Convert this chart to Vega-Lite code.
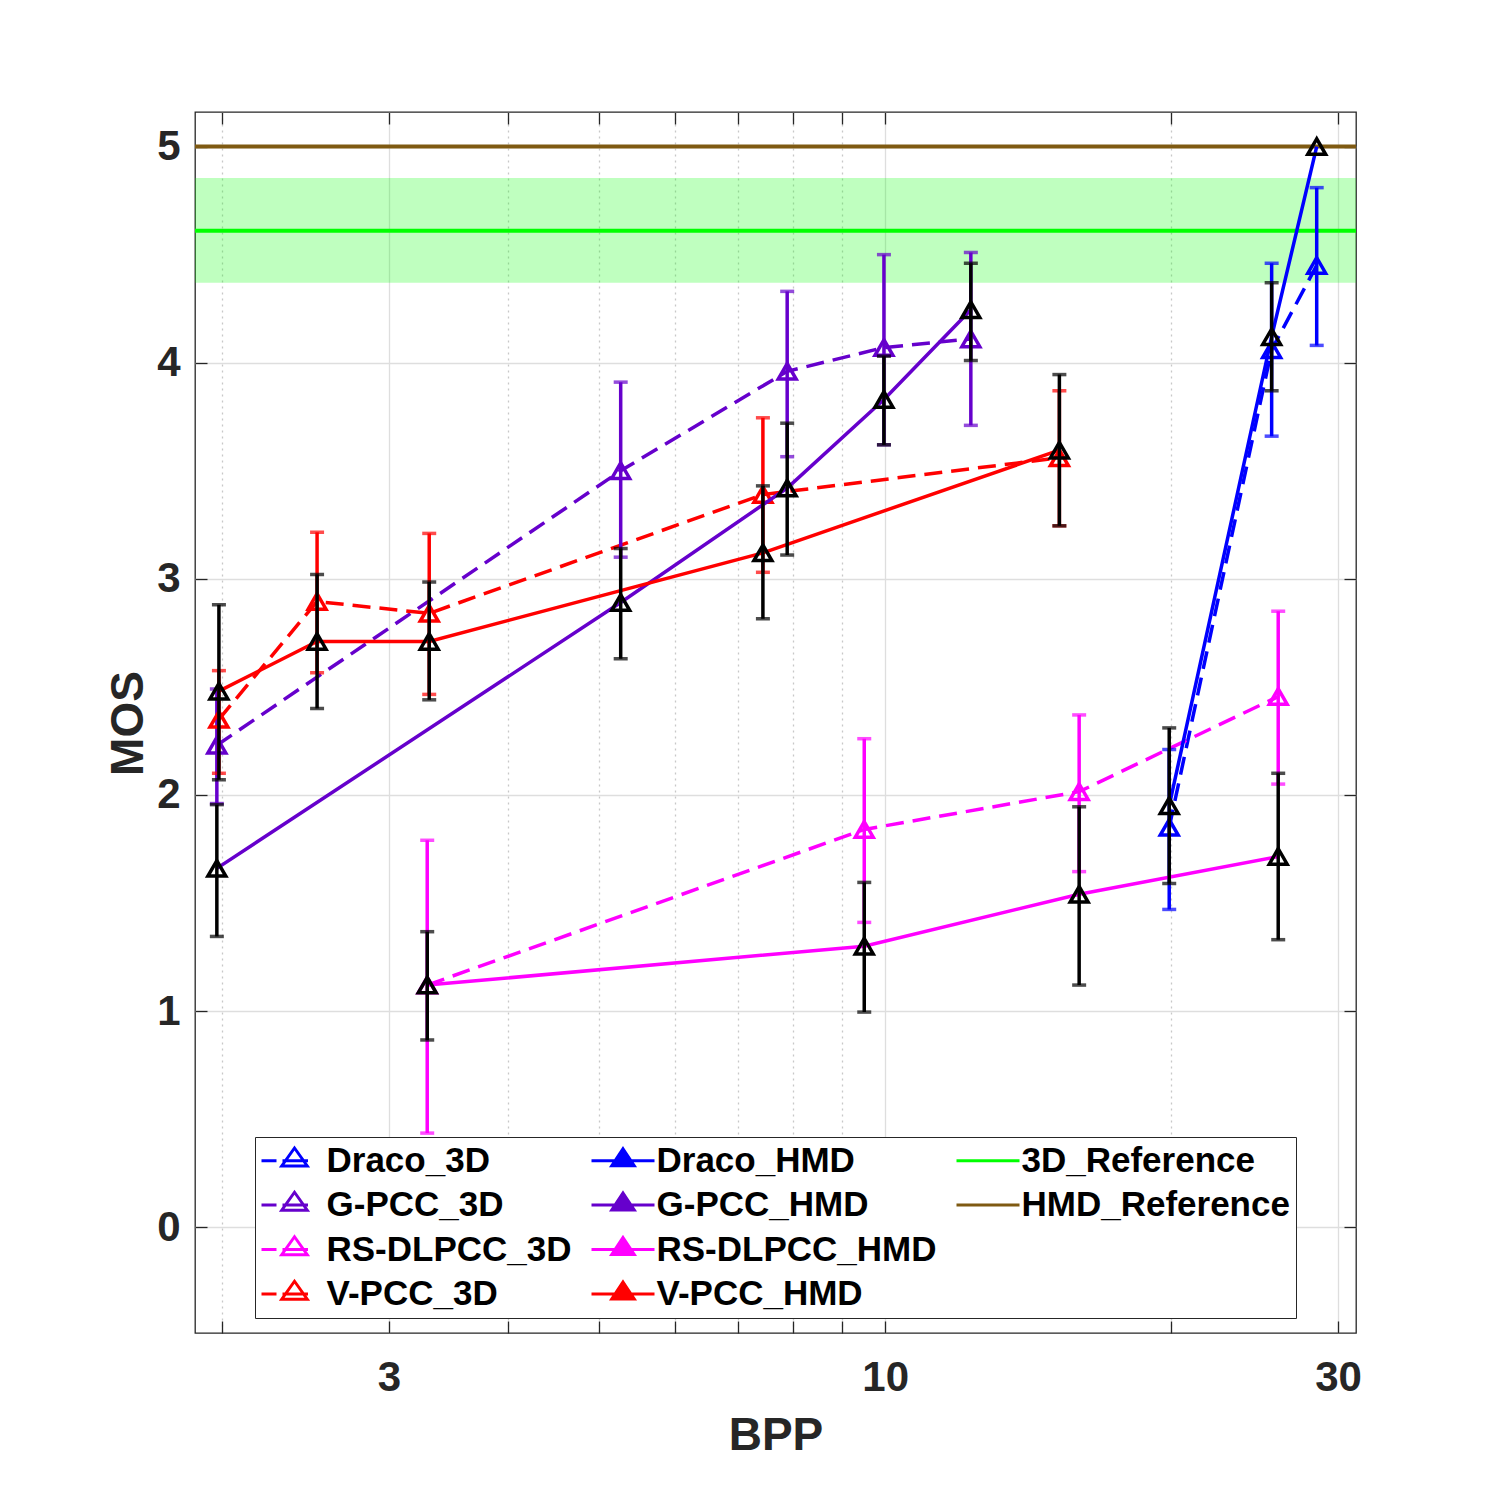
{
  "$schema": "https://vega.github.io/schema/vega-lite/v6.json",
  "width": 1161,
  "height": 1221,
  "autosize": {"type": "none"},
  "padding": {"left": 195, "top": 112, "right": 144, "bottom": 167},
  "background": "white",
  "config": {
    "view": {"stroke": "#262626", "strokeWidth": 1.3},
    "font": "Liberation Sans",
    "axis": {
      "labelFont": "Liberation Sans", "labelFontWeight": "bold", "labelFontSize": 42, "labelColor": "#262626",
      "titleFont": "Liberation Sans", "titleFontWeight": "bold", "titleFontSize": 46, "titleColor": "#262626",
      "domain": false, "tickColor": "#262626", "tickWidth": 1.3, "gridColor": "#dedede", "gridWidth": 1.3,
      "labelFlush": false, "labelOverlap": false
    },
    "legend": {
      "labelFont": "Liberation Sans", "labelFontWeight": "bold", "labelFontSize": 35, "labelColor": "#000000",
      "labelLimit": 500, "symbolSize": 900, "symbolStrokeWidth": 3,
      "strokeColor": "#262626", "fillColor": "#ffffff", "padding": 6, "rowPadding": 6.5, "columnPadding": 13,
      "symbolOffset": 14.5, "labelOffset": 16
    }
  },
  "datasets": {
    "pts": [
      {"series": "Draco_3D", "type": "3D", "bpp": 19.92, "mos": 1.85, "lo": 1.47, "hi": 2.21},
      {"series": "Draco_3D", "type": "3D", "bpp": 25.54, "mos": 4.06, "lo": 3.66, "hi": 4.46},
      {"series": "Draco_3D", "type": "3D", "bpp": 28.49, "mos": 4.45, "lo": 4.08, "hi": 4.81},
      {"series": "Draco_HMD", "type": "HMD", "bpp": 19.92, "mos": 1.95, "lo": 1.59, "hi": 2.31},
      {"series": "Draco_HMD", "type": "HMD", "bpp": 25.54, "mos": 4.12, "lo": 3.87, "hi": 4.37},
      {"series": "Draco_HMD", "type": "HMD", "bpp": 28.49, "mos": 5.0, "lo": null, "hi": null},
      {"series": "G-PCC_3D", "type": "3D", "bpp": 1.976, "mos": 2.23, "lo": 1.96, "hi": 2.49},
      {"series": "G-PCC_3D", "type": "3D", "bpp": 5.264, "mos": 3.5, "lo": 3.1, "hi": 3.91},
      {"series": "G-PCC_3D", "type": "3D", "bpp": 7.884, "mos": 3.96, "lo": 3.565, "hi": 4.33},
      {"series": "G-PCC_3D", "type": "3D", "bpp": 9.97, "mos": 4.07, "lo": 3.62, "hi": 4.5},
      {"series": "G-PCC_3D", "type": "3D", "bpp": 12.31, "mos": 4.11, "lo": 3.71, "hi": 4.51},
      {"series": "G-PCC_HMD", "type": "HMD", "bpp": 1.976, "mos": 1.66, "lo": 1.345, "hi": 1.955},
      {"series": "G-PCC_HMD", "type": "HMD", "bpp": 5.264, "mos": 2.89, "lo": 2.63, "hi": 3.14},
      {"series": "G-PCC_HMD", "type": "HMD", "bpp": 7.884, "mos": 3.42, "lo": 3.11, "hi": 3.72},
      {"series": "G-PCC_HMD", "type": "HMD", "bpp": 9.97, "mos": 3.83, "lo": 3.62, "hi": 4.03},
      {"series": "G-PCC_HMD", "type": "HMD", "bpp": 12.31, "mos": 4.245, "lo": 4.01, "hi": 4.46},
      {"series": "RS-DLPCC_3D", "type": "3D", "bpp": 3.292, "mos": 1.12, "lo": 0.435, "hi": 1.79},
      {"series": "RS-DLPCC_3D", "type": "3D", "bpp": 9.505, "mos": 1.84, "lo": 1.41, "hi": 2.26},
      {"series": "RS-DLPCC_3D", "type": "3D", "bpp": 16.01, "mos": 2.015, "lo": 1.645, "hi": 2.37},
      {"series": "RS-DLPCC_3D", "type": "3D", "bpp": 25.95, "mos": 2.455, "lo": 2.05, "hi": 2.85},
      {"series": "RS-DLPCC_HMD", "type": "HMD", "bpp": 3.292, "mos": 1.12, "lo": 0.866, "hi": 1.367},
      {"series": "RS-DLPCC_HMD", "type": "HMD", "bpp": 9.505, "mos": 1.3, "lo": 0.995, "hi": 1.595},
      {"series": "RS-DLPCC_HMD", "type": "HMD", "bpp": 16.01, "mos": 1.54, "lo": 1.12, "hi": 1.945},
      {"series": "RS-DLPCC_HMD", "type": "HMD", "bpp": 25.95, "mos": 1.715, "lo": 1.33, "hi": 2.1},
      {"series": "V-PCC_3D", "type": "3D", "bpp": 1.986, "mos": 2.35, "lo": 2.1, "hi": 2.575},
      {"series": "V-PCC_3D", "type": "3D", "bpp": 2.52, "mos": 2.895, "lo": 2.565, "hi": 3.215},
      {"series": "V-PCC_3D", "type": "3D", "bpp": 3.308, "mos": 2.84, "lo": 2.465, "hi": 3.21},
      {"series": "V-PCC_3D", "type": "3D", "bpp": 7.433, "mos": 3.39, "lo": 3.03, "hi": 3.745},
      {"series": "V-PCC_3D", "type": "3D", "bpp": 15.26, "mos": 3.56, "lo": 3.245, "hi": 3.87},
      {"series": "V-PCC_HMD", "type": "HMD", "bpp": 1.986, "mos": 2.48, "lo": 2.07, "hi": 2.88},
      {"series": "V-PCC_HMD", "type": "HMD", "bpp": 2.52, "mos": 2.71, "lo": 2.4, "hi": 3.02},
      {"series": "V-PCC_HMD", "type": "HMD", "bpp": 3.308, "mos": 2.71, "lo": 2.44, "hi": 2.985},
      {"series": "V-PCC_HMD", "type": "HMD", "bpp": 7.433, "mos": 3.12, "lo": 2.815, "hi": 3.43},
      {"series": "V-PCC_HMD", "type": "HMD", "bpp": 15.26, "mos": 3.595, "lo": 3.245, "hi": 3.945}
    ],
    "refs": [
      {"series": "3D_Reference", "mos": 4.61, "lo": 4.37, "hi": 4.855},
      {"series": "HMD_Reference", "mos": 5.0, "lo": null, "hi": null}
    ]
  },
  "resolve": {"axis": {"x": "independent", "y": "independent"}},
  "layer": [
    {
      "data": {"name": "refs"},
      "transform": [{"filter": "datum.series == '3D_Reference'"}],
      "mark": {"type": "rect", "fill": "#00ff00", "fillOpacity": 0.25},
      "encoding": {
        "x": {"value": 0},
        "x2": {"value": "width"},
        "y": {"field": "lo", "type": "quantitative", "scale": {"domain": [-0.49, 5.16], "nice": false, "zero": false}, "axis": null},
        "y2": {"field": "hi"}
      }
    },
    {
      "data": {"name": "refs"},
      "mark": {"type": "rule", "strokeWidth": 4},
      "encoding": {
        "y": {"field": "mos", "type": "quantitative", "scale": {"domain": [-0.49, 5.16], "nice": false, "zero": false},
          "axis": {"orient": "left", "values": [0, 1, 2, 3, 4, 5], "tickSize": -12, "labelPadding": 27, "grid": true,
            "title": "MOS", "titleAngle": 270, "titleX": -53, "titleY": 611, "titleBaseline": "alphabetic", "titleAlign": "center"}},
        "color": {"field": "series", "type": "nominal",
          "scale": {"domain": ["Draco_3D", "G-PCC_3D", "RS-DLPCC_3D", "V-PCC_3D", "Draco_HMD", "G-PCC_HMD", "RS-DLPCC_HMD", "V-PCC_HMD", "3D_Reference", "HMD_Reference", " "],
            "range": ["#0000ff", "#6600cc", "#ff00ff", "#ff0000", "#0000ff", "#6600cc", "#ff00ff", "#ff0000", "#00ff00", "#7f5a12", "#ffffff"]},
          "legend": {"title": null, "orient": "none", "legendX": 60, "legendY": 1025, "columns": 3, "direction": "vertical",
            "encoding": {"symbols": {
              "shape": {"value": {"expr": "indexof(datum.label,'Reference')>=0 ? 'M-2.1,0H2.1' : indexof(datum.label,'_3D')>=0 ? 'M-2.1,0H-1.1M-0.7,0H1M0.1,-0.85L0.95,0.35L-0.75,0.35Z' : 'M-2.1,0H2.1M0,-0.8L0.75,0.33L-0.75,0.33Z'"}},
              "fill": {"value": {"expr": "indexof(datum.label,'_HMD')>=0 ? scale('color', datum.value) : '#ffffff'"}},
              "fillOpacity": {"value": {"expr": "indexof(datum.label,'_HMD')>=0 ? 1 : 0"}}
            }}}
        }
      }
    },
    {
      "data": {"name": "pts"},
      "transform": [{"filter": "datum.type == '3D'"}],
      "mark": {"type": "line", "strokeWidth": 3.5, "strokeDash": [18, 9]},
      "encoding": {
        "x": {"field": "bpp", "type": "quantitative", "scale": {"type": "log", "domain": [1.874, 31.34], "nice": false},
          "axis": {"orient": "bottom", "values": [2, 3, 4, 5, 6, 7, 8, 9, 10, 20, 30],
            "labelExpr": "datum.value == 3 ? '3' : datum.value == 10 ? '10' : datum.value == 30 ? '30' : ''",
            "tickSize": -12, "labelPadding": 36, "labelBaseline": "top", "grid": true,
            "gridDash": {"condition": {"test": "datum.value == 3 || datum.value == 10 || datum.value == 30", "value": []}, "value": [2, 4]},
            "gridColor": {"condition": {"test": "datum.value == 3 || datum.value == 10 || datum.value == 30", "value": "#dedede"}, "value": "#c8c8c8"},
            "title": "BPP", "titleY": 116, "titleBaseline": "alphabetic"}},
        "y": {"field": "mos", "type": "quantitative", "scale": {"domain": [-0.49, 5.16], "nice": false, "zero": false},
          "axis": {"orient": "right", "values": [0, 1, 2, 3, 4, 5], "labels": false, "grid": false, "tickSize": -12, "title": null}},
        "color": {"field": "series", "type": "nominal", "legend": null}
      }
    },
    {
      "data": {"name": "pts"},
      "transform": [{"filter": "datum.type == '3D'"}],
      "mark": {"type": "rule", "strokeWidth": 3.5},
      "encoding": {
        "x": {"field": "bpp", "type": "quantitative", "scale": {"type": "log", "domain": [1.874, 31.34], "nice": false}, "axis": null},
        "y": {"field": "lo", "type": "quantitative", "scale": {"domain": [-0.49, 5.16], "nice": false, "zero": false}, "axis": null},
        "y2": {"field": "hi"},
        "color": {"field": "series", "type": "nominal", "legend": null}
      }
    },
    {
      "data": {"name": "pts"},
      "transform": [{"filter": "datum.type == '3D'"}, {"fold": ["lo", "hi"], "as": ["end", "val"]}],
      "mark": {"type": "tick", "orient": "horizontal", "size": 14, "thickness": 3.5},
      "encoding": {
        "x": {"field": "bpp", "type": "quantitative", "scale": {"type": "log", "domain": [1.874, 31.34], "nice": false}, "axis": null},
        "y": {"field": "val", "type": "quantitative", "scale": {"domain": [-0.49, 5.16], "nice": false, "zero": false}, "axis": null},
        "color": {"field": "series", "type": "nominal", "legend": null}
      }
    },
    {
      "data": {"name": "pts"},
      "transform": [{"filter": "datum.type == '3D'"}],
      "mark": {"type": "point", "shape": "triangle-up", "filled": false, "size": 320, "strokeWidth": 3.5, "opacity": 1},
      "encoding": {
        "x": {"field": "bpp", "type": "quantitative", "scale": {"type": "log", "domain": [1.874, 31.34], "nice": false}, "axis": null},
        "y": {"field": "mos", "type": "quantitative", "scale": {"domain": [-0.49, 5.16], "nice": false, "zero": false}, "axis": null},
        "color": {"field": "series", "type": "nominal", "legend": null}
      }
    },
    {
      "data": {"name": "pts"},
      "transform": [{"filter": "datum.type == 'HMD'"}],
      "mark": {"type": "line", "strokeWidth": 3.5},
      "encoding": {
        "x": {"field": "bpp", "type": "quantitative", "scale": {"type": "log", "domain": [1.874, 31.34], "nice": false},
          "axis": {"orient": "top", "values": [2, 3, 4, 5, 6, 7, 8, 9, 10, 20, 30], "labels": false, "grid": false, "tickSize": -12, "title": null}},
        "y": {"field": "mos", "type": "quantitative", "scale": {"domain": [-0.49, 5.16], "nice": false, "zero": false}, "axis": null},
        "color": {"field": "series", "type": "nominal", "legend": null}
      }
    },
    {
      "data": {"name": "pts"},
      "transform": [{"filter": "datum.type == 'HMD'"}],
      "mark": {"type": "rule", "strokeWidth": 3.5, "color": "#000000"},
      "encoding": {
        "x": {"field": "bpp", "type": "quantitative", "scale": {"type": "log", "domain": [1.874, 31.34], "nice": false}, "axis": null},
        "y": {"field": "lo", "type": "quantitative", "scale": {"domain": [-0.49, 5.16], "nice": false, "zero": false}, "axis": null},
        "y2": {"field": "hi"}
      }
    },
    {
      "data": {"name": "pts"},
      "transform": [{"filter": "datum.type == 'HMD'"}, {"fold": ["lo", "hi"], "as": ["end", "val"]}],
      "mark": {"type": "tick", "orient": "horizontal", "size": 14, "thickness": 3.5, "color": "#000000"},
      "encoding": {
        "x": {"field": "bpp", "type": "quantitative", "scale": {"type": "log", "domain": [1.874, 31.34], "nice": false}, "axis": null},
        "y": {"field": "val", "type": "quantitative", "scale": {"domain": [-0.49, 5.16], "nice": false, "zero": false}, "axis": null}
      }
    },
    {
      "data": {"name": "pts"},
      "transform": [{"filter": "datum.type == 'HMD'"}],
      "mark": {"type": "point", "shape": "triangle-up", "filled": false, "size": 320, "strokeWidth": 3.5, "opacity": 1, "color": "#000000"},
      "encoding": {
        "x": {"field": "bpp", "type": "quantitative", "scale": {"type": "log", "domain": [1.874, 31.34], "nice": false}, "axis": null},
        "y": {"field": "mos", "type": "quantitative", "scale": {"domain": [-0.49, 5.16], "nice": false, "zero": false}, "axis": null}
      }
    }
  ]
}
